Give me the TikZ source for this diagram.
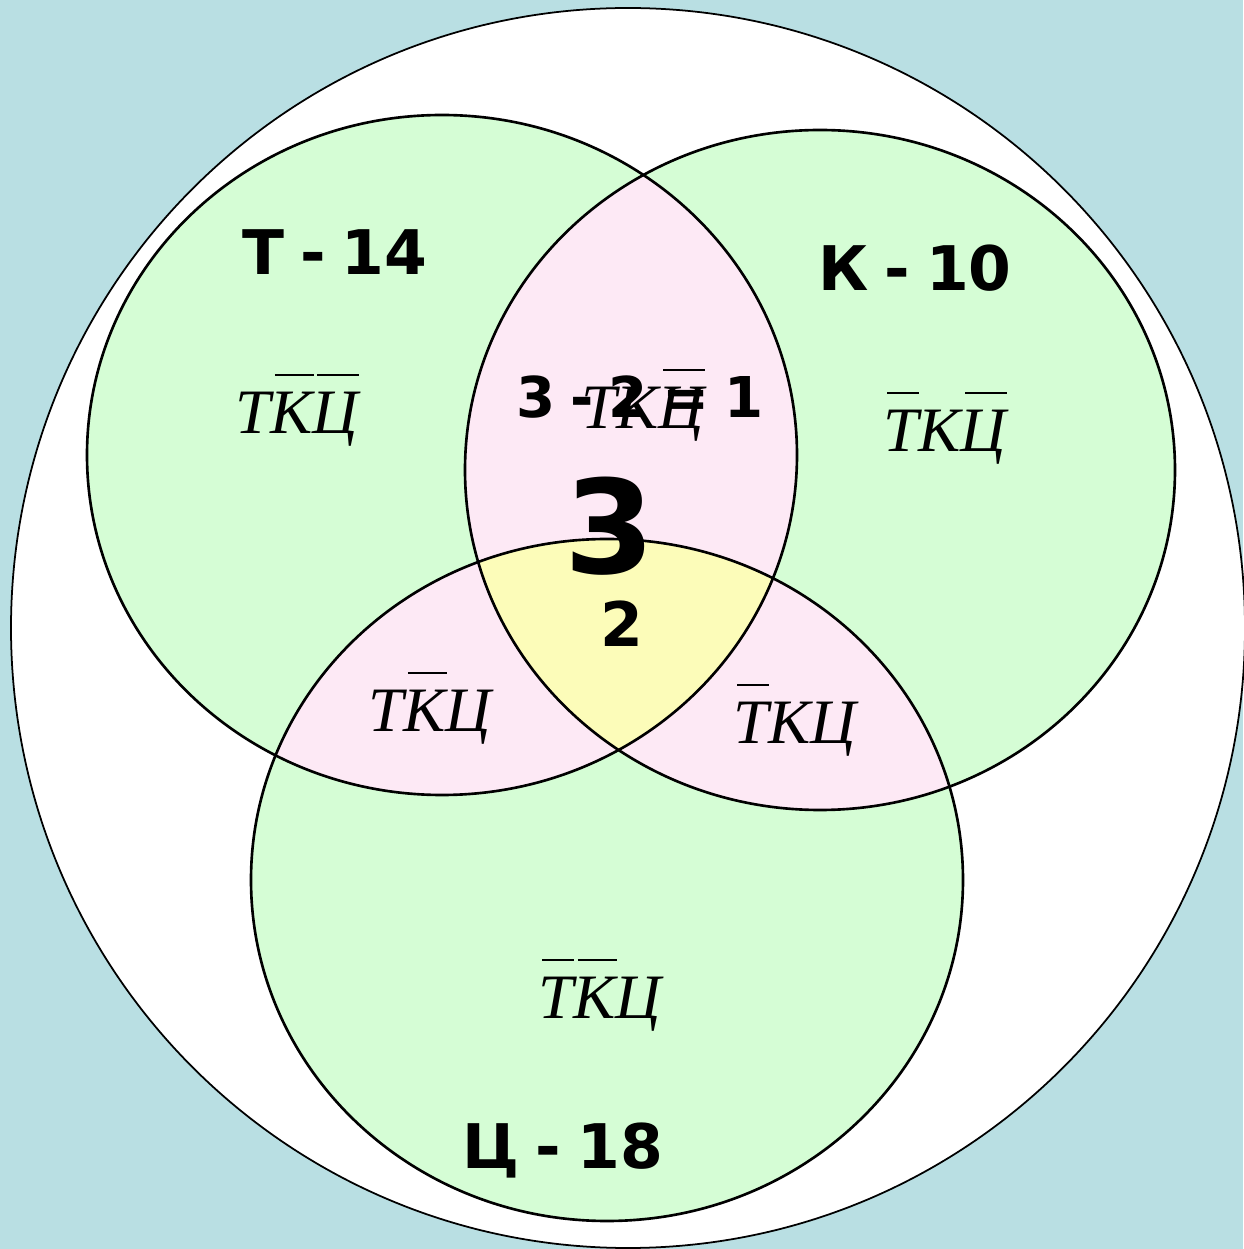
\documentclass[tikz,border=0pt]{standalone}
\usepackage{fontspec}
\usepackage{tikz}
\usepackage{xcolor}

\newfontfamily\vennbf{DejaVu Sans}
\newfontfamily\vennit{Liberation Serif}

\definecolor{bgblue}{RGB}{185,223,227}
\definecolor{setgreen}{RGB}{213,253,213}
\definecolor{lenspink}{RGB}{253,233,245}
\definecolor{midyellow}{RGB}{252,252,185}

% a letter with a bar over it
\newcommand{\olet}[1]{\setbox0\hbox{#1}\rlap{\kern0.1\wd0\raisebox{0.9em}{\rule{0.92\wd0}{0.7pt}}}\box0}
\newcommand{\gap}{\hspace{0.26em}}

\def\setT{(4.42,7.94) ellipse [x radius=3.55, y radius=3.40]}
\def\setK{(8.20,7.79) ellipse [x radius=3.55, y radius=3.40]}
\def\setC{(6.07,3.69) ellipse [x radius=3.56, y radius=3.41]}

\tikzset{
  rim/.style={line width=0.75pt},
  setname/.style={font=\vennbf\bfseries\fontsize{17.5}{20}\selectfont},
  region/.style={font=\vennit\itshape\fontsize{18}{20}\selectfont},
}

\begin{document}
\begin{tikzpicture}

\fill[bgblue] (0,0) rectangle (12.43,12.49);
\useasboundingbox (0,0) rectangle (12.43,12.49);

\filldraw[fill=white, line width=0.5pt] (6.28,6.21) ellipse [x radius=6.17, y radius=6.20];

\fill[setgreen] \setT;
\fill[setgreen] \setK;
\fill[setgreen] \setC;

% pairwise overlaps
\begin{scope}
  \clip \setT;
  \fill[lenspink] \setK;
  \fill[lenspink] \setC;
\end{scope}
\begin{scope}
  \clip \setK;
  \fill[lenspink] \setC;
\end{scope}
\begin{scope}
  \clip \setT;
  \clip \setK;
  \fill[midyellow] \setC;
\end{scope}

\draw[rim] \setT;
\draw[rim] \setK;
\draw[rim] \setC;

\node[setname] (nameT) at (3.35,9.97) {Т\gap-\gap14};
\node[setname] (nameK) at (9.15,9.81) {К\gap-\gap10};
\node[setname] (nameC) at (5.63,0.99) {Ц\gap-\gap18};

\node[region] (onlyT) at (2.97,8.39) {Т\olet{К}\olet{Ц}};
\node[region] (onlyK) at (9.45,8.21) {\olet{Т}К\olet{Ц}};
\node[region] (onlyC) at (6.00,2.54) {\olet{Т}\olet{К}Ц};
\node[region] (TC) at (4.30,5.41) {Т\olet{К}Ц};
\node[region] (KC) at (7.95,5.29) {\olet{Т}КЦ};
\node[region] (TK) at (6.43,8.44) {ТК\olet{Ц}};

\node[setname, font=\vennbf\bfseries\fontsize{16}{18}\selectfont] (diff) at (6.40,8.52) {3\gap-\gap2\gap=\gap1};
\node[setname, inner sep=0pt, font=\vennbf\bfseries\fontsize{37}{40}\selectfont] (three) at (6.10,7.23) {3};
\node[setname, inner sep=1pt] (two) at (6.22,6.25) {2};

\end{tikzpicture}
\end{document}
